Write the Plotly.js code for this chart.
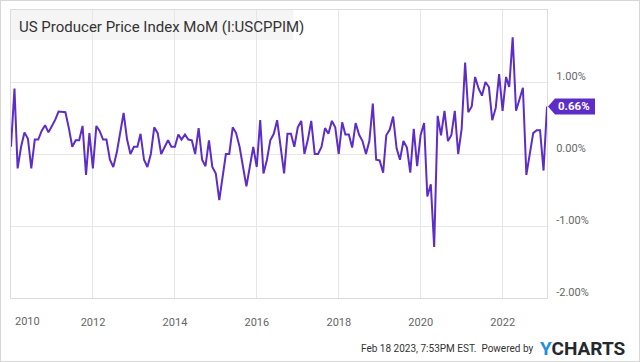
<!DOCTYPE html>
<html>
<head>
<meta charset="utf-8">
<script src="https://cdn.plot.ly/plotly-3.0.1.min.js"></script>
<style>
  html, body { margin: 0; padding: 0; background: #fff; }
  #chart { width: 638px; height: 360px; border: 1px solid #d6d6d6; }
</style>
</head>
<body>
<div id="chart"></div>
<script>
// US PPI MoM (%), monthly, Dec 2009 .. Jan 2023 (month-end dates)
const startYear = 2009, startMonth = 12;
const ppiMoM = [
  0.10, 0.91, -0.20, 0.10, 0.30, 0.21, -0.20, 0.20, 0.20, 0.32, 0.40, 0.30,
  0.39, 0.48, 0.59, 0.59, 0.58, 0.36, 0.10, 0.19, 0.19, 0.39, -0.29, 0.29,
  -0.20, 0.39, 0.32, 0.20, 0.20, -0.08, -0.18, 0.02, 0.30, 0.57, 0.20, 0.00,
  0.10, 0.10, 0.28, -0.08, -0.18, 0.00, 0.37, 0.29, 0.00, 0.10, 0.19, 0.10,
  0.10, 0.27, 0.20, 0.27, 0.20, 0.19, 0.00, 0.36, -0.08, -0.17, 0.19, -0.18,
  -0.27, -0.64, -0.31, 0.00, 0.00, 0.37, 0.29, 0.10, -0.18, -0.45, -0.17, 0.10,
  -0.18, 0.47, -0.27, -0.08, 0.19, 0.28, 0.47, 0.10, -0.27, 0.28, 0.28, 0.10,
  0.37, 0.46, 0.00, 0.20, 0.46, 0.00, 0.00, 0.10, 0.36, 0.28, 0.46, 0.37,
  0.00, 0.44, 0.27, 0.27, 0.09, 0.43, 0.27, 0.18, 0.00, 0.18, 0.70, -0.08,
  -0.09, -0.26, 0.26, 0.34, 0.52, 0.08, -0.08, 0.18, 0.09, -0.26, 0.35, -0.17,
  0.26, 0.43, -0.59, -0.42, -1.29, 0.53, 0.26, 0.60, 0.18, 0.26, 0.60, 0.00,
  0.35, 1.27, 0.58, 0.66, 1.07, 0.91, 0.81, 1.00, 0.93, 0.47, 0.64, 1.11,
  0.60, 1.07, 0.93, 1.62, 0.60, 0.76, 0.92, -0.29, 0.01, 0.29, 0.33, 0.33,
  -0.23, 0.66
];
const xTickVals = ['2012-01-01', '2014-01-01', '2016-01-01', '2018-01-01', '2020-01-01', '2022-01-01'];
const xTickText = ['2012', '2014', '2016', '2018', '2020', '2022'];
const firstYearLabel = '2010';
const firstYearDate = '2010-01-01';
const yTickVals = [-2, -1, 0, 1];
const yTickText = ['-2.00%', '-1.00%', '0.00%', '1.00%'];
const seriesTitle = 'US Producer Price Index MoM (I:USCPPIM)';
const footerText = 'Feb 18 2023, 7:53PM EST.  Powered by';

// month-end dates
const dates = ppiMoM.map((_, i) => {
  const d = new Date(Date.UTC(startYear, startMonth + i, 0));
  return d.toISOString().slice(0, 10);
});
const lastDate = dates[dates.length - 1];
const lastVal = ppiMoM[ppiMoM.length - 1];
const purple = '#5d2dc8';

const trace = {
  x: dates, y: ppiMoM, type: 'scatter', mode: 'lines',
  line: { color: purple, width: 2 }, hoverinfo: 'skip'
};

const layout = {
  width: 638, height: 360,
  margin: { l: 10, r: 92, t: 9, b: 63 },
  paper_bgcolor: '#ffffff', plot_bgcolor: '#ffffff',
  showlegend: false,
  font: { family: 'Roboto, sans-serif', color: '#666' },
  title: {
    text: seriesTitle, xref: 'container', yref: 'container',
    x: 18 / 638, xanchor: 'left', y: 1 - 26 / 360, yanchor: 'middle',
    font: { family: 'Roboto, sans-serif', size: 15, color: '#333' }
  },
  xaxis: {
    type: 'date', range: [dates[0], lastDate],
    tickvals: xTickVals, ticktext: xTickText,
    showgrid: true, gridcolor: '#e6e6e6', gridwidth: 1,
    showline: true, mirror: true, linecolor: '#dcdcdc', linewidth: 1,
    zeroline: false, ticks: '', ticklabelstandoff: 14,
    tickfont: { family: 'Roboto, sans-serif', size: 11, color: '#666' },
    fixedrange: true
  },
  yaxis: {
    side: 'right', range: [-2, 2],
    tickvals: yTickVals, ticktext: yTickText,
    showgrid: true, gridcolor: '#e6e6e6', gridwidth: 1,
    showline: true, mirror: true, linecolor: '#dcdcdc', linewidth: 1,
    zeroline: false, ticks: '', ticklabelstandoff: 6, ticklabelshift: -6,
    tickfont: { family: 'Roboto, sans-serif', size: 11, color: '#666' },
    fixedrange: true
  },
  shapes: [
    { type: 'rect', xref: 'paper', yref: 'paper', x0: 0, x1: 0.527, y0: 0.896, y1: 1,
      fillcolor: '#f5f5f5', line: { width: 0 }, layer: 'below' },
    { type: 'path', xref: 'paper', yref: 'y', xsizemode: 'pixel', ysizemode: 'pixel',
      xanchor: 1, yanchor: lastVal, layer: 'above',
      path: 'M 1 0 L 8 8 L 48 8 L 48 -8 L 8 -8 Z',
      fillcolor: purple, line: { width: 0 } }
  ],
  annotations: [
    { xref: 'x', yref: 'paper', x: firstYearDate, y: 0, text: firstYearLabel,
      xanchor: 'left', yanchor: 'middle', xshift: 2, yshift: -23, showarrow: false,
      font: { family: 'Roboto, sans-serif', size: 11, color: '#666' } },
    { xref: 'paper', yref: 'y', x: 1, y: lastVal, text: '<b>' + lastVal.toFixed(2) + '%</b>',
      xanchor: 'left', yanchor: 'middle', xshift: 9, showarrow: false,
      font: { family: 'Roboto, sans-serif', size: 11.5, color: '#ffffff' } },
    { xref: 'paper', yref: 'paper', x: (534 - 10) / 536, y: -0.174, text: footerText,
      xanchor: 'right', yanchor: 'middle', showarrow: false,
      font: { family: 'Roboto, sans-serif', size: 10, color: '#333' } },
    { xref: 'paper', yref: 'paper', x: (537 - 10) / 536, y: -0.177,
      text: '<b><span style="color:#1f8fe0">Y</span>CHARTS</b>',
      xanchor: 'left', yanchor: 'middle', showarrow: false,
      font: { family: 'Roboto, sans-serif', size: 19, color: '#24292f' } }
  ]
};

Plotly.newPlot('chart', [trace], layout, { displayModeBar: false, staticPlot: true });
</script>
</body>
</html>
